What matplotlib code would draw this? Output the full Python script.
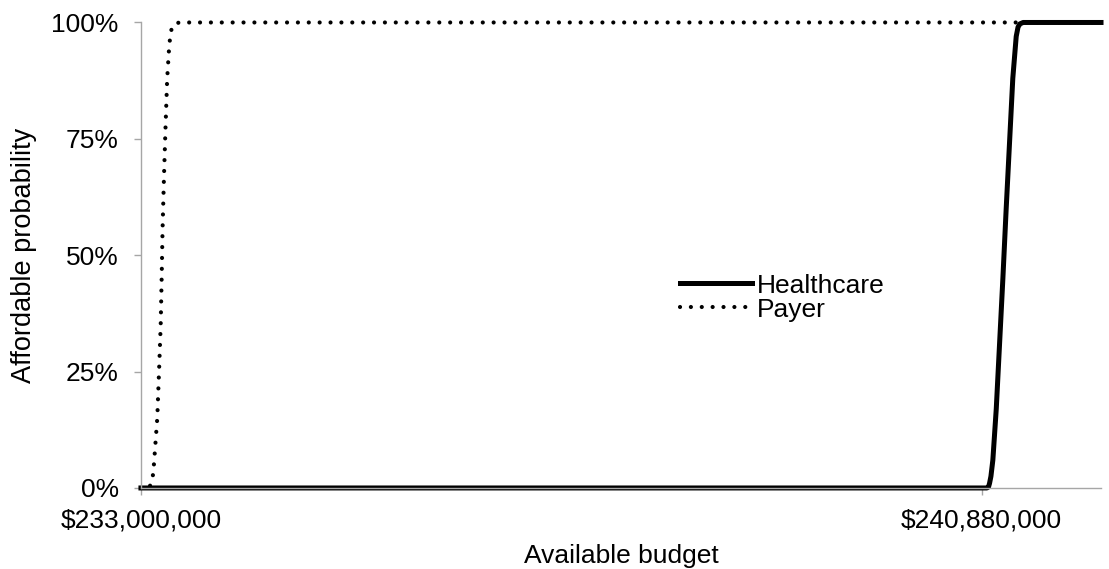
import matplotlib.pyplot as plt
import matplotlib.ticker as mticker

plt.rcParams["font.family"] = ["Liberation Sans", "DejaVu Sans"]

# budget (USD) vs affordable probability
payer_budget = [233000000, 233080000, 233091000, 233115000, 233153000, 233171000,
                233185000, 233194000, 233203000, 233216000, 233231000, 233246000,
                233265000, 233280000, 233293000, 233320000, 233365000, 242000000]
payer_prob = [0.0, 0.0, 0.01, 0.03, 0.15, 0.26, 0.35, 0.45, 0.56, 0.67, 0.78,
              0.88, 0.95, 0.98, 0.99, 0.998, 1.0, 1.0]

health_budget = [233000000, 240930000, 240945000, 240955000, 240968000, 240986000,
                 241018000, 241049000, 241080000, 241111000, 241142000, 241173000,
                 241205000, 241222000, 241240000, 241270000, 242000000]
health_prob = [0.0, 0.0, 0.002, 0.01, 0.025, 0.06, 0.17, 0.31, 0.45, 0.60, 0.74,
               0.88, 0.97, 0.99, 0.997, 1.0, 1.0]

x_ticks = [233000000, 240880000]
y_ticks = [0, 0.25, 0.5, 0.75, 1.0]

fig = plt.figure(figsize=(11.09, 5.69), dpi=100)
ax = fig.add_axes([0.1271, 0.1424, 0.8657, 0.8181])

payer_line, = ax.plot(payer_budget, payer_prob, color="black", lw=3,
                      linestyle=(0, (0.01, 2.6)), dash_capstyle="round",
                      clip_on=False, label="Payer")
health_line, = ax.plot(health_budget, health_prob, color="black", lw=3.6,
                       solid_joinstyle="round", clip_on=False, label="Healthcare")

ax.set_xlim(233000000, 242000000)
ax.set_ylim(0, 1)

ax.set_xticks(x_ticks)
ax.xaxis.set_major_formatter(mticker.FuncFormatter(lambda v, p: "${:,.0f}".format(v)))
ax.set_yticks(y_ticks)
ax.yaxis.set_major_formatter(mticker.PercentFormatter(1.0, decimals=0))

for s in ["top", "right"]:
    ax.spines[s].set_visible(False)
for s in ["left", "bottom"]:
    ax.spines[s].set_color("#a6a6a6")
    ax.spines[s].set_linewidth(1)

ax.tick_params(axis="both", direction="out", length=5, width=1, color="#a6a6a6",
               labelsize=19, labelcolor="black")
ax.tick_params(axis="y", pad=11)
ax.tick_params(axis="x", pad=10)

ax.set_xlabel("Available budget", fontsize=19, labelpad=8)
ax.set_ylabel("Affordable probability", fontsize=19.5, labelpad=10)

ax.legend(handles=[health_line, payer_line], loc="center left",
          bbox_to_anchor=(0.5615, 0.409), frameon=False, fontsize=19,
          borderpad=0, borderaxespad=0, handlelength=2.73, handletextpad=0.19,
          labelspacing=0.0)

fig.savefig("out.png", dpi=100)
